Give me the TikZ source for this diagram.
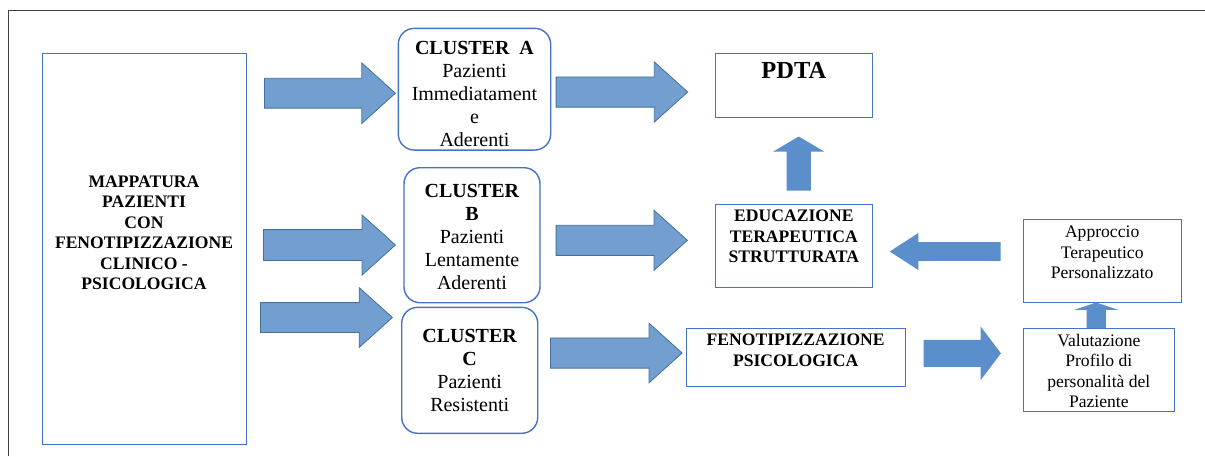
\documentclass[tikz,border=0pt]{standalone}
\usepackage{fontspec}
\setmainfont{Liberation Serif}
\usepackage{tikz}
\usetikzlibrary{shapes.arrows}
\definecolor{boxblue}{HTML}{4472C4}
\definecolor{arrfill}{HTML}{729FCF}
\definecolor{arrline}{HTML}{41719C}
\definecolor{arrdark}{HTML}{5B8FCC}
\definecolor{framegray}{HTML}{404040}

\begin{document}
\begin{tikzpicture}[x=1pt,y=-1pt,
	box/.style={draw=boxblue,line width=1pt,rectangle,inner sep=0pt},
	cluster/.style={draw=boxblue,line width=1.4pt,rectangle,rounded corners=16pt,inner sep=0pt},
	txt/.style={align=center,inner sep=0pt,font=\fontsize{17.6}{20.5}\selectfont},
	bigtxt/.style={align=center,inner sep=0pt,font=\fontsize{20}{23}\selectfont},
	blockarrow/.style n args={4}{single arrow,anchor=tail,inner sep=#2/2,
		minimum height=#1,minimum width=#3,single arrow head extend=(#3-#2)/2,
		single arrow tip angle=#4},
	lightarrow/.style={fill=arrfill,draw=arrline,line width=0.8pt},
	darkarrow/.style={fill=arrdark,draw=none}]
	\useasboundingbox (0,0) rectangle (1205,456);
	\draw[framegray,line width=1.3pt] (8.7,456) |- (1205,10.7);

	% boxes
	\node[box,minimum width=204,minimum height=391]			(mapp)	at (144,248.5)		{};
	\node[cluster,minimum width=152.4,minimum height=121.7]	(clA)	at (474.5,89.2)		{};
	\node[cluster,minimum width=136,minimum height=135]		(clB)	at (472,235.2)		{};
	\node[cluster,minimum width=136,minimum height=126]		(clC)	at (469.7,370.3)	{};
	\node[box,minimum width=157.7,minimum height=64]		(pdta)	at (793.85,85.3)	{};
	\node[box,minimum width=157.7,minimum height=83.3]		(edu)	at (793.85,245.65)	{};
	\node[box,minimum width=219.3,minimum height=58.4]		(feno)	at (795.65,357.5)	{};
	\node[box,minimum width=157.7,minimum height=83.4]		(appr)	at (1102.15,261)	{};
	\node[box,minimum width=151,minimum height=83.4]		(valut)	at (1098.8,370)		{};

	% texts
	\node[txt,font=\fontsize{17.6}{20.5}\selectfont\bfseries]	(mappT)	at ([yshift=15.5]mapp.center)
		{MAPPATURA\\PAZIENTI\\CON\\FENOTIPIZZAZIONE\\CLINICO -\\PSICOLOGICA};
	\node[bigtxt]	(clAT)	at ([yshift=-5]clA.center)	{\textbf{CLUSTER\ \ A}\\Pazienti\\Immediatament\\e\\Aderenti};
	\node[bigtxt]	(clBT)	at ([yshift=-1.5]clB.center)	{\textbf{CLUSTER}\\\textbf{B}\\Pazienti\\Lentamente\\Aderenti};
	\node[bigtxt]	(clCT)	at (clC.center)				{\textbf{CLUSTER}\\\textbf{C}\\Pazienti\\Resistenti};
	\node[txt,font=\fontsize{24.5}{28}\selectfont\bfseries]	(pdtaT)	at ([yshift=14.6]pdta.center)	{PDTA};
	\node[txt,font=\fontsize{17.6}{20.5}\selectfont\bfseries]	(eduT)	at ([yshift=9]edu.center)
		{EDUCAZIONE\\TERAPEUTICA\\STRUTTURATA};
	\node[txt,font=\fontsize{17.6}{20.5}\selectfont\bfseries]	(fenoT)	at ([yshift=7.2]feno.center)
		{FENOTIPIZZAZIONE\\PSICOLOGICA};
	\node[txt]	(apprT)		at ([yshift=8.7]appr.center)	{Approccio\\Terapeutico\\Personalizzato};
	\node[txt]	(valutT)	at ([yshift=-0.8]valut.center)	{Valutazione\\Profilo di\\personalità del\\Paziente};

	% block arrows
	\node[blockarrow={131}{29}{59.7}{84},lightarrow]	(mA)	at (264,93.2)	{};
	\node[blockarrow={132}{30}{59.3}{84},lightarrow]	(mB)	at (263,245)	{};
	\node[blockarrow={132}{29}{59}{84},lightarrow]		(mC)	at (260,317.5)	{};
	\node[blockarrow={131.6}{29.4}{59.4}{84},lightarrow]	(aP)	at (555.7,92)	{};
	\node[blockarrow={131.3}{29.3}{59.3}{84},lightarrow]	(bE)	at (555.7,240.3)	{};
	\node[blockarrow={131.7}{29.4}{58.7}{84},lightarrow]	(cF)	at (550,353)	{};
	\node[blockarrow={54}{24}{51}{119},darkarrow,shape border rotate=90]	(eP)	at (798.7,190.7)	{};
	\node[blockarrow={110.7}{18.4}{36.7}{66},darkarrow,shape border rotate=180]	(aE)	at (1000.7,251.5)	{};
	\node[blockarrow={77.4}{26.7}{53.3}{106},darkarrow]	(fV)	at (923.3,353.3)	{};
	\node[blockarrow={25.6}{19}{44.3}{143},darkarrow,shape border rotate=90]	(vA)	at (1096.2,328.3)	{};
\end{tikzpicture}
\end{document}
